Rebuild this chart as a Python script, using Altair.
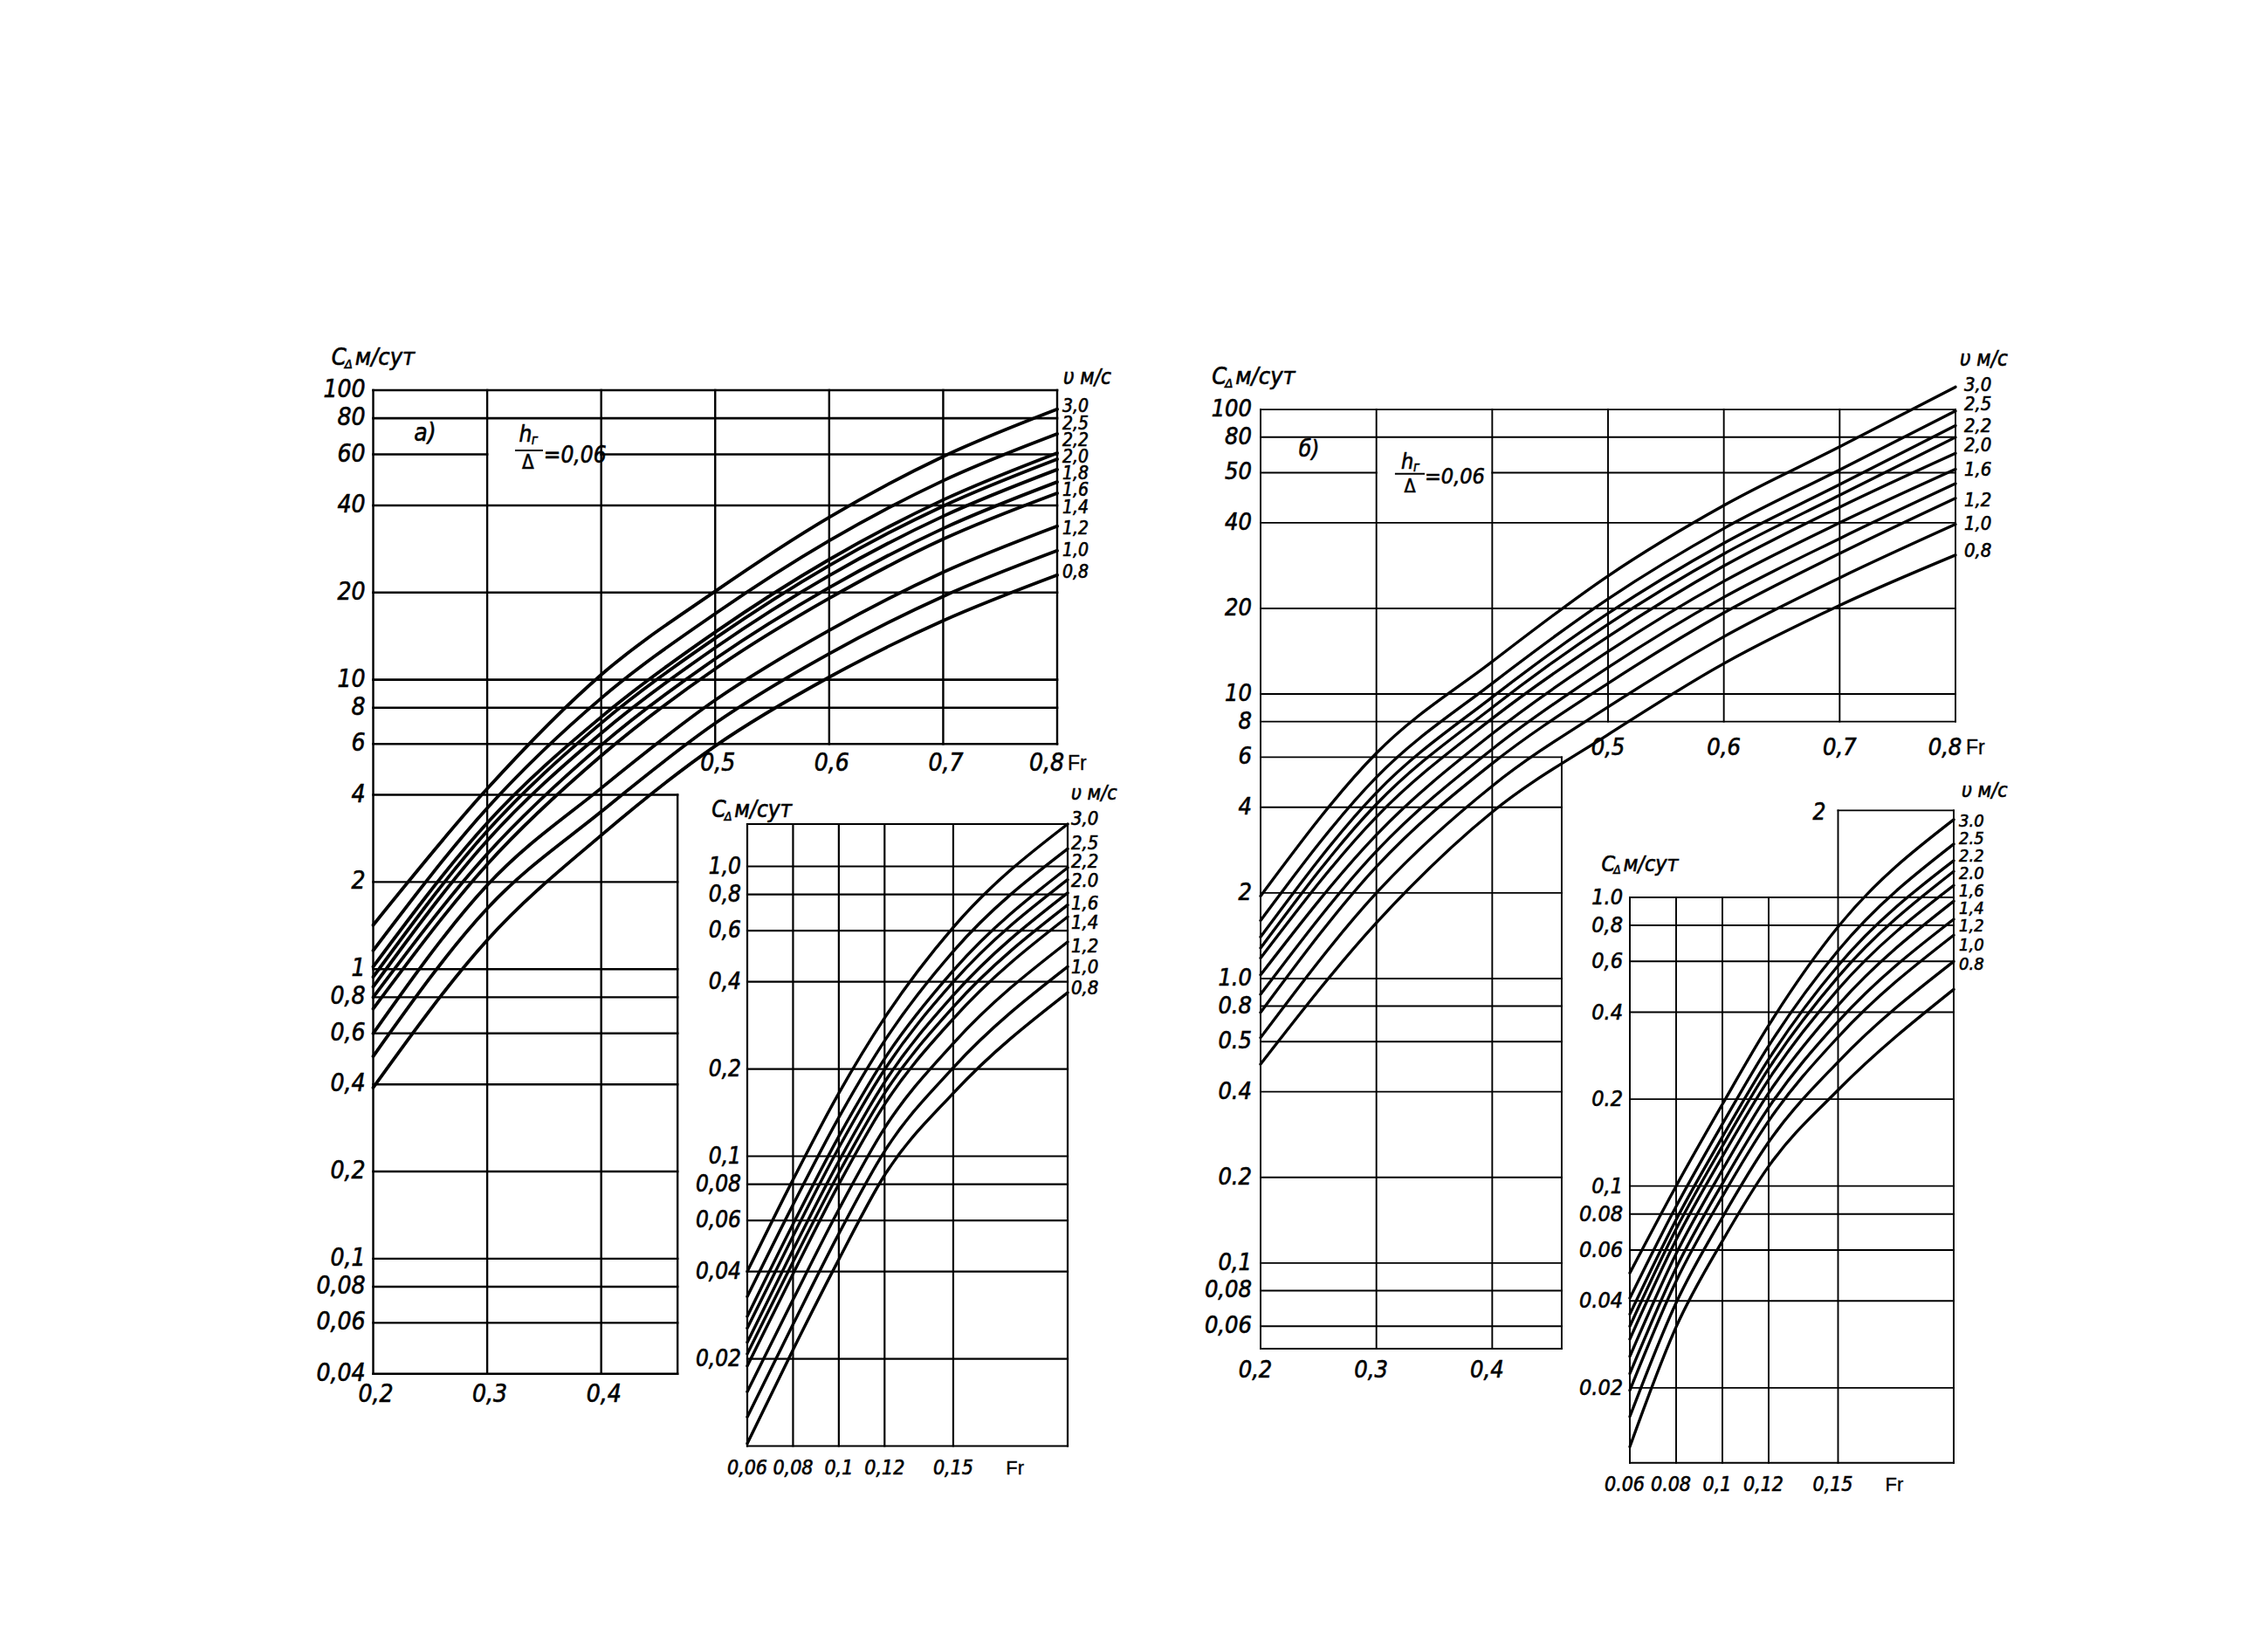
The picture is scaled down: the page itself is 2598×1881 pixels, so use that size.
import altair as alt
import pandas as pd

# ---------------- data ----------------
V = [3.0, 2.5, 2.2, 2.0, 1.8, 1.6, 1.4, 1.2, 1.0, 0.8]

# panel a) main nomogram: C (m/day) vs Fr for each v (m/s)
A_FR = [0.2, 0.3, 0.4, 0.5, 0.6, 0.7, 0.8]
A_C = [
    [1.42, 4.2, 10.4, 20.2, 36.4, 59.0, 86.0],
    [1.16, 3.6, 8.63, 16.9, 30.2, 48.7, 70.7],
    [1.02, 3.2, 7.43, 14.6, 26.0, 41.8, 60.7],
    [0.94, 3.0, 7.08, 13.9, 24.8, 39.8, 57.8],
    [0.87, 2.78, 6.53, 12.9, 22.9, 36.7, 53.2],
    [0.80, 2.5, 5.94, 11.8, 20.8, 33.3, 48.2],
    [0.73, 2.3, 5.46, 10.9, 19.1, 30.6, 44.1],
    [0.60, 1.95, 4.22, 8.5, 14.8, 23.5, 33.9],
    [0.50, 1.62, 3.5, 7.07, 12.3, 19.4, 27.9],
    [0.39, 1.26, 2.9, 5.9, 10.2, 16.0, 23.0],
]
A_VLAB = ["3,0", "2,5", "2,2", "2,0", "1,8", "1,6", "1,4", "1,2", "1,0", "0,8"]
A_VLAB_AT = [87.6, 76.3, 66.9, 58.6, 51.3, 45.0, 39.2, 33.1, 27.9, 23.4]
A_YT = [100, 80, 60, 40, 20, 10, 8, 6, 4, 2, 1, 0.8, 0.6, 0.4, 0.2, 0.1, 0.08, 0.06, 0.04]
A_YL = ["100", "80", "60", "40", "20", "10", "8", "6", "4", "2", "1", "0,8", "0,6", "0,4",
        "0,2", "0,1", "0,08", "0,06", "0,04"]
A_GRID_UP = [100, 80, 40, 20, 10, 8, 6]
A_GRID_LOW = [4, 2, 1, 0.8, 0.6, 0.4, 0.2, 0.1, 0.08, 0.06, 0.04]
A_XT_LOW = [0.2, 0.3, 0.4]
A_XL_LOW = ["0,2", "0,3", "0,4"]
A_XT_UP = [0.5, 0.6, 0.7]
A_XL_UP = ["0,5", "0,6", "0,7"]

# panel a) inset
AI_FR = [0.06, 0.08, 0.1, 0.12, 0.15, 0.2]
AI_C = [
    [0.040, 0.083, 0.165, 0.300, 0.616, 1.40],
    [0.0328, 0.068, 0.136, 0.250, 0.509, 1.15],
    [0.028, 0.0583, 0.117, 0.217, 0.437, 0.99],
    [0.0255, 0.053, 0.107, 0.199, 0.399, 0.90],
    [0.0228, 0.0475, 0.096, 0.180, 0.359, 0.81],
    [0.0208, 0.0432, 0.0875, 0.165, 0.327, 0.736],
    [0.0189, 0.0393, 0.080, 0.151, 0.298, 0.67],
    [0.0154, 0.032, 0.0655, 0.125, 0.245, 0.549],
    [0.0126, 0.0263, 0.054, 0.104, 0.202, 0.451],
    [0.0102, 0.0215, 0.044, 0.086, 0.165, 0.367],
]
AI_VLAB = ["3,0", "2,5", "2,2", "2.0", "1,6", "1,4", "1,2", "1,0", "0,8"]
AI_VLAB_AT = [1.46, 1.20, 1.04, 0.895, 0.745, 0.639, 0.532, 0.45, 0.381]
AI_YT = [1.0, 0.8, 0.6, 0.4, 0.2, 0.1, 0.08, 0.06, 0.04, 0.02]
AI_YL = ["1,0", "0,8", "0,6", "0,4", "0,2", "0,1", "0,08", "0,06", "0,04", "0,02"]
AI_GRID = [1.4, 1.0, 0.8, 0.6, 0.4, 0.2, 0.1, 0.08, 0.06, 0.04, 0.02, 0.01]
AI_XT = [0.06, 0.08, 0.1, 0.12, 0.15, 0.2]
AI_XL = ["0,06", "0,08", "0,1", "0,12", "0,15"]

# panel б) main nomogram
B_FR = [0.2, 0.3, 0.4, 0.5, 0.6, 0.7, 0.8]
B_C = [
    [1.95, 6.2, 13.0, 26.0, 46.0, 74.0, 120.0],
    [1.60, 5.1, 10.9, 21.6, 38.2, 61.4, 98.8],
    [1.40, 4.5, 9.75, 19.2, 33.9, 54.5, 87.8],
    [1.28, 4.1, 8.97, 17.6, 31.1, 50.0, 79.9],
    [1.18, 3.7, 8.2, 15.9, 28.2, 45.4, 70.2],
    [1.03, 3.2, 7.25, 14.1, 24.9, 40.0, 61.7],
    [0.88, 2.8, 6.4, 12.4, 21.9, 35.2, 54.9],
    [0.76, 2.47, 5.7, 10.9, 19.3, 31.2, 48.8],
    [0.62, 2.0, 4.75, 9.0, 15.9, 25.6, 39.5],
    [0.50, 1.57, 3.85, 7.2, 12.8, 20.5, 30.8],
]
B_VLAB = ["3,0", "2,5", "2,2", "2,0", "1,6", "1,2", "1,0", "0,8"]
B_VLAB_AT = [121.8, 104.5, 87.6, 75.0, 61.6, 48.0, 39.8, 31.9]
B_YT = [100, 80, 60, 40, 20, 10, 8, 6, 4, 2, 1, 0.8, 0.6, 0.4, 0.2, 0.1, 0.08, 0.06]
B_YL = ["100", "80", "50", "40", "20", "10", "8", "6", "4", "2", "1.0", "0.8", "0.5", "0.4",
        "0.2", "0,1", "0,08", "0,06"]
B_GRID_UP = [100, 80, 40, 20, 10, 8]
B_GRID_LOW = [6, 4, 2, 1, 0.8, 0.6, 0.4, 0.2, 0.1, 0.08, 0.06, 0.05]
B_XT_LOW = [0.2, 0.3, 0.4]
B_XL_LOW = ["0,2", "0,3", "0,4"]
B_XT_UP = [0.5, 0.6, 0.7]
B_XL_UP = ["0,5", "0,6", "0,7"]

# panel б) inset
BI_FR = [0.06, 0.08, 0.1, 0.12, 0.15, 0.2]
BI_C = [
    [0.050, 0.100, 0.192, 0.360, 0.790, 1.86],
    [0.0409, 0.085, 0.164, 0.306, 0.654, 1.53],
    [0.036, 0.0765, 0.148, 0.275, 0.580, 1.34],
    [0.0327, 0.0709, 0.1375, 0.255, 0.530, 1.23],
    [0.0295, 0.0651, 0.1265, 0.234, 0.480, 1.10],
    [0.0257, 0.0583, 0.1137, 0.210, 0.423, 0.97],
    [0.0224, 0.052, 0.102, 0.187, 0.371, 0.84],
    [0.0196, 0.0468, 0.092, 0.168, 0.328, 0.74],
    [0.0159, 0.0394, 0.0778, 0.142, 0.269, 0.60],
    [0.0125, 0.0325, 0.0645, 0.117, 0.215, 0.48],
]
BI_VLAB = ["3.0", "2.5", "2.2", "2.0", "1,6", "1,4", "1,2", "1,0", "0.8"]
BI_VLAB_AT = [1.832, 1.594, 1.387, 1.207, 1.05, 0.913, 0.795, 0.682, 0.585]
BI_YT = [1.0, 0.8, 0.6, 0.4, 0.2, 0.1, 0.08, 0.06, 0.04, 0.02]
BI_YL = ["1.0", "0,8", "0,6", "0.4", "0.2", "0,1", "0.08", "0.06", "0.04", "0.02"]
BI_GRID = [1.0, 0.8, 0.6, 0.4, 0.2, 0.1, 0.08, 0.06, 0.04, 0.02, 0.011]
BI_XT = [0.06, 0.08, 0.1, 0.12]
BI_XT_TALL = [0.15, 0.2]
BI_XL = ["0.06", "0.08", "0,1", "0,12", "0,15"]

# ---------------- layout (page pixels) ----------------
M = 8
PANELS = {
    "a": dict(xd=[0.2, 0.8], xr=[427.5, 1211.0], yd=[0.04, 100], yr=[1573.8, 447.0]),
    "ai": dict(xd=[0.06, 0.2], xr=[856.0, 1223.0], yd=[0.01, 1.4], yr=[1656.5, 944.0]),
    "b": dict(xd=[0.2, 0.8], xr=[1444.0, 2240.0], yd=[0.05, 130], yr=[1545.0, 432.0]),
    "bi": dict(xd=[0.06, 0.2], xr=[1867.0, 2238.0], yd=[0.011, 2.0], yr=[1675.7, 928.4]),
}
FONT = "Liberation Sans Narrow, DejaVu Sans Condensed, Liberation Sans, sans-serif"
UPFONT = "Liberation Sans, sans-serif"
TSTROKE = 0.6


def scales(key):
    p = PANELS[key]
    xs = alt.Scale(domain=p["xd"], range=[r - M for r in p["xr"]], nice=False, zero=False)
    ys = alt.Scale(type="log", domain=p["yd"], range=[r - M for r in p["yr"]], nice=False)
    return xs, ys


def hrules(key, yv, x1, x2, w):
    xs, ys = scales(key)
    df = pd.DataFrame({"y": yv, "x1": [x1] * len(yv), "x2": [x2] * len(yv)})
    return alt.Chart(df).mark_rule(color="black", strokeWidth=w, strokeCap="square").encode(
        x=alt.X("x1:Q", scale=xs, axis=None), x2="x2:Q",
        y=alt.Y("y:Q", scale=ys, axis=None))


def vrules(key, xv, y1, y2, w):
    xs, ys = scales(key)
    df = pd.DataFrame({"x": xv, "y1": [y1] * len(xv), "y2": [y2] * len(xv)})
    return alt.Chart(df).mark_rule(color="black", strokeWidth=w, strokeCap="square").encode(
        x=alt.X("x:Q", scale=xs, axis=None),
        y=alt.Y("y1:Q", scale=ys, axis=None), y2="y2:Q")


def curves(key, fr, rows, w):
    xs, ys = scales(key)
    recs = [dict(fr=f, c=c, v=v) for v, row in zip(V, rows) for f, c in zip(fr, row)]
    return alt.Chart(pd.DataFrame(recs)).mark_line(
        color="black", strokeWidth=w, interpolate="monotone", strokeCap="round",
        strokeJoin="round").encode(
        x=alt.X("fr:Q", scale=xs, axis=None),
        y=alt.Y("c:Q", scale=ys, axis=None),
        detail="v:N")


def texts(key, xv, yv, labels, size, align="center", dx=0, dy=0, font=FONT,
          style="italic", stroke=TSTROKE):
    xs, ys = scales(key)
    df = pd.DataFrame({"x": xv, "y": yv, "t": labels})
    return alt.Chart(df).mark_text(
        align=align, baseline="middle", dx=dx, dy=dy, fontSize=size, font=font,
        fontStyle=style, color="black", stroke="black", strokeWidth=stroke).encode(
        x=alt.X("x:Q", scale=xs, axis=None),
        y=alt.Y("y:Q", scale=ys, axis=None),
        text="t:N")


def title(key, x, y, size):
    return [
        texts(key, [x], [y], ["C"], size, "left"),
        texts(key, [x], [y], ["Δ"], size * 0.55, "left", dx=size * 0.55, dy=size * 0.3),
        texts(key, [x], [y], ["м/сут"], size, "left", dx=size * 1.0),
    ]


def fraction(key, xnum, ynum, xbar1, xbar2, ybar, yden, xeq, yeq, size, sub):
    xs, ys = scales(key)
    bar = pd.DataFrame({"x1": [xbar1], "x2": [xbar2], "y": [ybar]})
    return [
        texts(key, [xnum], [ynum], ["h"], size, "center", dx=-3),
        texts(key, [xnum], [ynum], [sub], size * 0.6, "left", dx=4, dy=6),
        alt.Chart(bar).mark_rule(color="black", strokeWidth=2).encode(
            x=alt.X("x1:Q", scale=xs, axis=None), x2="x2:Q",
            y=alt.Y("y:Q", scale=ys, axis=None)),
        texts(key, [xnum], [yden], ["Δ"], size * 0.85, "center", style="normal"),
        texts(key, [xeq], [yeq], ["=0,06"], size, "left"),
    ]


layers = []

# ---------- panel a) main ----------
layers += [
    hrules("a", A_GRID_UP, 0.2, 0.8, 2.6),
    hrules("a", [60], 0.2, 0.3, 2.6),
    hrules("a", [60], 0.4, 0.8, 2.6),
    hrules("a", A_GRID_LOW, 0.2, 0.467, 2.4),
    vrules("a", [0.2, 0.3, 0.4], 0.04, 100, 2.4),
    vrules("a", [0.467], 0.04, 4, 2.4),
    vrules("a", [0.5, 0.6, 0.7, 0.8], 6, 100, 2.4),
    curves("a", A_FR, A_C, 3.8),
    texts("a", [0.2] * len(A_YT), A_YT, A_YL, 28, "right", dx=-9),
    texts("a", A_XT_LOW, [0.04] * 3, A_XL_LOW, 28, "center", dx=3, dy=24),
    texts("a", A_XT_UP, [6] * 3, A_XL_UP, 28, "center", dx=3, dy=23),
    texts("a", [0.8], [6], ["0,8"], 28, "center", dx=-12, dy=23),
    texts("a", [0.8], [6], ["Fr"], 23, "left", dx=12, dy=23, font=UPFONT, style="normal",
          stroke=0.3),
    texts("a", [0.8] * len(A_VLAB), A_VLAB_AT, A_VLAB, 21, "left", dx=6),
    texts("a", [0.8], [110], ["υ м/с"], 24, "left", dx=7),
    texts("a", [0.2455], [70.7], ["а)"], 28, "center"),
]
layers += title("a", 0.1635, 129.3, 27)
layers += fraction("a", 0.3358, 70.2, 0.3244, 0.3489, 61.9, 56.2, 0.3496, 59.4, 26, "г")

# ---------- panel a) inset ----------
layers += [
    hrules("ai", AI_GRID, 0.06, 0.2, 2.2),
    vrules("ai", AI_XT, 0.01, 1.4, 2.2),
    curves("ai", AI_FR, AI_C, 3.4),
    texts("ai", [0.06] * len(AI_YT), AI_YT, AI_YL, 26, "right", dx=-7),
    texts("ai", AI_XT[:5], [0.01] * 5, AI_XL, 23, "center", dy=25),
    texts("ai", [0.177], [0.01], ["Fr"], 22, "center", dy=25, font=UPFONT, style="normal",
          stroke=0.3),
    texts("ai", [0.2] * len(AI_VLAB), AI_VLAB_AT, AI_VLAB, 22, "left", dx=4),
    texts("ai", [0.2], [1.785], ["υ м/с"], 23, "left", dx=4),
]
layers += title("ai", 0.0445, 1.565, 26)

# ---------- panel б) main ----------
layers += [
    hrules("b", B_GRID_UP, 0.2, 0.8, 1.9),
    hrules("b", [60], 0.2, 0.3, 1.9),
    hrules("b", [60], 0.4, 0.8, 1.9),
    hrules("b", B_GRID_LOW, 0.2, 0.46, 1.9),
    vrules("b", [0.2, 0.3, 0.4], 0.05, 100, 1.9),
    vrules("b", [0.46], 0.05, 6, 1.9),
    vrules("b", [0.5, 0.6, 0.7, 0.8], 8, 100, 1.9),
    curves("b", B_FR, B_C, 3.3),
    texts("b", [0.2] * len(B_YT), B_YT, B_YL, 27, "right", dx=-10),
    texts("b", B_XT_LOW, [0.05] * 3, B_XL_LOW, 27, "center", dx=-6, dy=25),
    texts("b", B_XT_UP, [8] * 3, B_XL_UP, 27, "center", dx=0, dy=30),
    texts("b", [0.8], [8], ["0,8"], 27, "center", dx=-12, dy=30),
    texts("b", [0.8], [8], ["Fr"], 23, "left", dx=12, dy=30, font=UPFONT, style="normal",
          stroke=0.3),
    texts("b", [0.8] * len(B_VLAB), B_VLAB_AT, B_VLAB, 22, "left", dx=10),
    texts("b", [0.8], [150], ["υ м/с"], 24, "left", dx=5),
    texts("b", [0.2419], [72.1], ["б)"], 26, "center"),
]
layers += title("b", 0.158, 129.9, 27)
layers += fraction("b", 0.3289, 65.5, 0.316, 0.3417, 59.5, 53.3, 0.3417, 58.0, 25, "г")

# ---------- panel б) inset ----------
layers += [
    hrules("bi", BI_GRID, 0.06, 0.2, 1.9),
    hrules("bi", [2.0], 0.15, 0.2, 1.9),
    vrules("bi", BI_XT, 0.011, 1.0, 1.9),
    vrules("bi", BI_XT_TALL, 0.011, 2.0, 1.9),
    curves("bi", BI_FR, BI_C, 3.3),
    texts("bi", [0.06] * len(BI_YT), BI_YT, BI_YL, 25, "right", dx=-8),
    texts("bi", AI_XT[:5], [0.011] * 5, BI_XL, 23, "center", dx=-6, dy=25),
    texts("bi", [0.1743], [0.011], ["Fr"], 22, "center", dy=25, font=UPFONT, style="normal",
          stroke=0.3),
    texts("bi", [0.15], [2.0], ["2"], 26, "right", dx=-14, dy=3),
    texts("bi", [0.2] * len(BI_VLAB), BI_VLAB_AT, BI_VLAB, 20, "left", dx=6),
    texts("bi", [0.2], [2.34], ["υ м/с"], 23, "left", dx=9),
]
layers += title("bi", 0.0477, 1.303, 25)

chart = alt.layer(*layers).resolve_scale(
    x="independent", y="independent"
).properties(
    width=2598 - 2 * M, height=1881 - 2 * M, padding=0,
    autosize=alt.AutoSizeParams(type="none"),
).configure_view(stroke=None)

chart.save("out.html", embed_options={"renderer": "svg", "actions": False})
